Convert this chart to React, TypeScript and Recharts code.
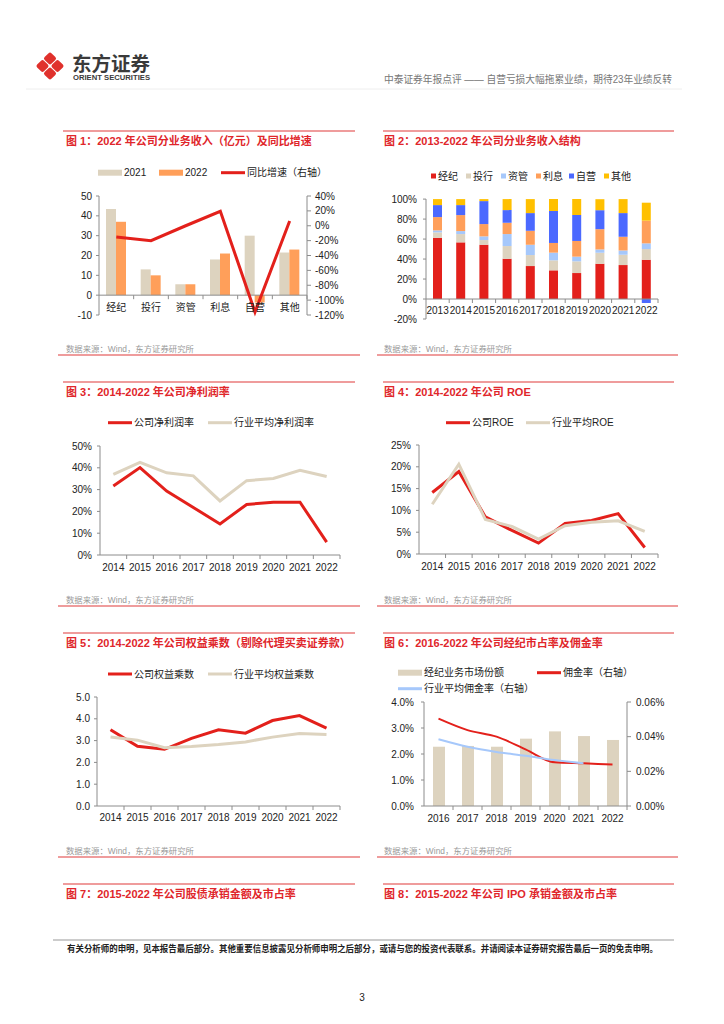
import React from "react";
import { ComposedChart, Bar, Line, XAxis, YAxis, ReferenceLine } from "recharts";

const FONT = '"Liberation Sans", "Noto Sans CJK SC", sans-serif';
const RED = "#e3201b";
const BEIGE = "#ddd3bf";
const ORANGE = "#ff9f5a";
const LIGHTBLUE = "#a6c8fb";
const BLUE = "#4b69ff";
const YELLOW = "#ffc000";
const AXIS = "#8c8c8c";
const INK = "#222";

// 图1 分业务收入（亿元）及同比增速
const bizCats = ["经纪", "投行", "资管", "利息", "自营", "其他"];
const rev2021 = [43.5, 13, 5.5, 18, 30, 21.5];
const rev2022 = [37, 10, 5.5, 21, -3.7, 23];
const revGrowth = [-15, -20, 0, 19.5, -116, 6.5];

// 图2 分业务收入结构（%）
const structYears = ["2013", "2014", "2015", "2016", "2017", "2018", "2019", "2020", "2021", "2022"];
const shareBrokerage = [61.3, 56.7, 54.3, 40.3, 33, 28.7, 26, 35.3, 34, 39.3];
const shareIB = [5.4, 8.3, 4.7, 12.7, 11, 10, 11.7, 11, 10.3, 10.7];
const shareAM = [2, 3, 3.7, 12, 10.3, 7.7, 4.7, 3.3, 4.3, 5.7];
const shareInterest = [13.3, 16, 12.3, 11.3, 14, 9.7, 15.7, 20.3, 13.7, 22.7];
const shareProp = [12, 10, 23, 12.7, 17.7, 32, 26, 19, 23.7, -4];
const shareOther = [6, 6, 2, 11, 14, 12, 16, 11, 14, 18];

// 图3-5
const years = ["2014", "2015", "2016", "2017", "2018", "2019", "2020", "2021", "2022"];
const netMarginCo = [31.7, 40.1, 29.3, 21.8, 14.2, 23.2, 24.2, 24.2, 5.9];
const netMarginInd = [37, 42.5, 37.7, 36.3, 24.8, 34.1, 35.1, 38.9, 36];
const roeCo = [14.1, 18.9, 8.5, 5.4, 2.5, 7.0, 7.7, 9.25, 1.5];
const roeInd = [11.4, 20.6, 7.9, 6.3, 3.4, 6.5, 7.3, 7.6, 5.2];
const leverCo = [3.5, 2.74, 2.6, 3.1, 3.5, 3.34, 3.92, 4.15, 3.57];
const leverInd = [3.16, 3.02, 2.67, 2.73, 2.82, 2.94, 3.16, 3.32, 3.28];

// 图6 经纪市占率及佣金率
const brokerYears = ["2016", "2017", "2018", "2019", "2020", "2021", "2022"];
const brokerShare = [2.28, 2.31, 2.28, 2.59, 2.87, 2.69, 2.54];
const commissionCo = [0.0504, 0.0438, 0.04, 0.0327, 0.0252, 0.0246, 0.024];
const commissionInd = [0.0385, 0.0342, 0.0312, 0.029, 0.0265, 0.0246, null];

const fig1Data = bizCats.map((name, i) => ({ name, a: rev2021[i], b: rev2022[i], g: revGrowth[i] }));
const fig2Data = structYears.map((name, i) => ({
  name,
  jj: shareBrokerage[i],
  th: shareIB[i],
  zg: shareAM[i],
  lx: shareInterest[i],
  zy: shareProp[i],
  qt: shareOther[i],
}));
const fig3Data = years.map((name, i) => ({ name, co: netMarginCo[i], ind: netMarginInd[i] }));
const fig4Data = years.map((name, i) => ({ name, co: roeCo[i], ind: roeInd[i] }));
const fig5Data = years.map((name, i) => ({ name, co: leverCo[i], ind: leverInd[i] }));
const fig6Data = brokerYears.map((name, i) => ({ name, s: brokerShare[i], c: commissionCo[i], ci: commissionInd[i] }));

const tickStyle = { fontSize: 10, fill: INK, fontFamily: FONT };
const pct = (v: number) => `${v}%`;

function CatTick(props: any) {
  const { x, y, payload, band, lift = 0, dyText = 15 } = props;
  const zy = y - lift;
  return (
    <g>
      <line x1={x + band / 2} x2={x + band / 2} y1={zy} y2={zy + 4} stroke={AXIS} />
      <text x={x} y={zy + dyText} textAnchor="middle" fontSize={10} fill={INK} fontFamily={FONT}>
        {payload.value}
      </text>
    </g>
  );
}

function Box({ left, top, children }: { left: number; top: number; children: React.ReactNode }) {
  return <div style={{ position: "absolute", left, top }}>{children}</div>;
}

function Fig1() {
  return (
    <ComposedChart width={300} height={150} data={fig1Data} barGap={0} margin={{ top: 11, right: 5, bottom: 0, left: 0 }}>
      <XAxis dataKey="name" axisLine={false} tickLine={false} tickSize={0} tickMargin={0} height={20} interval={0}
        tick={<CatTick band={208 / 6} lift={19.8} dyText={16} />} />
      <YAxis yAxisId="l" domain={[-10, 50]} ticks={[-10, 0, 10, 20, 30, 40, 50]} width={39} tick={tickStyle}
        stroke={AXIS} tickSize={3} tickMargin={4} interval={0} />
      <YAxis yAxisId="r" orientation="right" domain={[-120, 40]} ticks={[-120, -100, -80, -60, -40, -20, 0, 20, 40]}
        tickFormatter={pct} width={48} tick={tickStyle} stroke={AXIS} tickSize={4} tickMargin={4} interval={0} />
      <ReferenceLine yAxisId="l" y={0} stroke={AXIS} />
      <Bar yAxisId="l" dataKey="a" fill={BEIGE} barSize={10} isAnimationActive={false} />
      <Bar yAxisId="l" dataKey="b" fill={ORANGE} barSize={10} isAnimationActive={false} />
      <Line yAxisId="r" dataKey="g" stroke={RED} strokeWidth={3} dot={false} type="linear" isAnimationActive={false} />
    </ComposedChart>
  );
}

function Fig2() {
  return (
    <ComposedChart width={300} height={150} data={fig2Data} stackOffset="sign" margin={{ top: 14, right: 17, bottom: 0, left: 0 }}>
      <XAxis dataKey="name" axisLine={false} tickLine={false} tickSize={0} tickMargin={0} height={16} interval={0}
        tick={<CatTick band={232 / 10} lift={20} dyText={14.5} />} />
      <YAxis domain={[-20, 100]} ticks={[-20, 0, 20, 40, 60, 80, 100]} tickFormatter={pct} width={51}
        tick={tickStyle} stroke={AXIS} tickSize={3} tickMargin={6} interval={0} />
      <Bar dataKey="jj" stackId="s" fill={RED} barSize={9} isAnimationActive={false} />
      <Bar dataKey="th" stackId="s" fill={BEIGE} barSize={9} isAnimationActive={false} />
      <Bar dataKey="zg" stackId="s" fill={LIGHTBLUE} barSize={9} isAnimationActive={false} />
      <Bar dataKey="lx" stackId="s" fill={ORANGE} barSize={9} isAnimationActive={false} />
      <Bar dataKey="zy" stackId="s" fill={BLUE} barSize={9} isAnimationActive={false} />
      <Bar dataKey="qt" stackId="s" fill={YELLOW} barSize={9} isAnimationActive={false} />
      <ReferenceLine y={0} stroke={AXIS} />
    </ComposedChart>
  );
}

function TwoLines({ data, top, right, yWidth, plotW, domain, ticks, fmt, gap, dyText }: any) {
  const band = plotW / 9;
  return (
    <ComposedChart width={300} height={145} data={data} margin={{ top, right, bottom: 0, left: 0 }}>
      <XAxis dataKey="name" stroke={AXIS} tickLine={false} tickSize={0} tickMargin={0} height={145 - top - 109} interval={0}
        padding={{ left: band / 2, right: band / 2 }} tick={<CatTick band={band} dyText={dyText} />} />
      <YAxis domain={domain} ticks={ticks} tickFormatter={fmt} width={yWidth} tick={tickStyle}
        stroke={AXIS} tickSize={3} tickMargin={gap} interval={0} />
      <Line dataKey="co" stroke={RED} strokeWidth={3} dot={false} type="linear" isAnimationActive={false} />
      <Line dataKey="ind" stroke={BEIGE} strokeWidth={3} dot={false} type="linear" isAnimationActive={false} />
    </ComposedChart>
  );
}

function Fig6() {
  return (
    <ComposedChart width={300} height={140} data={fig6Data} margin={{ top: 12, right: 0, bottom: 0, left: 0 }}>
      <XAxis dataKey="name" stroke={AXIS} tickLine={false} tickSize={0} tickMargin={0} height={24} interval={0}
        tick={<CatTick band={203 / 7} dyText={16} />} />
      <YAxis yAxisId="l" domain={[0, 4]} ticks={[0, 1, 2, 3, 4]} tickFormatter={(v: number) => `${v.toFixed(1)}%`}
        width={49} tick={tickStyle} stroke={AXIS} tickSize={3} tickMargin={7} interval={0} />
      <YAxis yAxisId="r" orientation="right" domain={[0, 0.06]} ticks={[0, 0.02, 0.04, 0.06]}
        tickFormatter={(v: number) => `${v.toFixed(2)}%`} width={48} tick={tickStyle} stroke={AXIS} tickSize={4} tickMargin={5} interval={0} />
      <Bar yAxisId="l" dataKey="s" fill={BEIGE} barSize={12} isAnimationActive={false} />
      <Line yAxisId="r" dataKey="c" stroke={RED} strokeWidth={2} dot={false} type="monotone" isAnimationActive={false} />
      <Line yAxisId="r" dataKey="ci" stroke={LIGHTBLUE} strokeWidth={2} dot={false} type="monotone" isAnimationActive={false} />
    </ComposedChart>
  );
}

const titles = [
  { x: 66, y: 145, t: "图 1：2022 年公司分业务收入（亿元）及同比增速" },
  { x: 384, y: 145, t: "图 2：2013-2022 年公司分业务收入结构" },
  { x: 66, y: 396, t: "图 3：2014-2022 年公司净利润率" },
  { x: 384, y: 396, t: "图 4：2014-2022 年公司 ROE" },
  { x: 66, y: 647, t: "图 5：2014-2022 年公司权益乘数（剔除代理买卖证券款）" },
  { x: 384, y: 647, t: "图 6：2016-2022 年公司经纪市占率及佣金率" },
  { x: 66, y: 898, t: "图 7：2015-2022 年公司股债承销金额及市占率" },
  { x: 384, y: 898, t: "图 8：2015-2022 年公司 IPO 承销金额及市占率" },
];
const titleLineYs = [131, 382, 633, 884];
const sourceYs = [349, 600, 851];

function Txt({ x, y, children, size = 10, fill = INK, weight = 400, anchor = "start", len }: any) {
  return (
    <text x={x} y={y} fontSize={size} fill={fill} fontWeight={weight} textAnchor={anchor} fontFamily={FONT}
      textLength={len} lengthAdjust={len ? "spacingAndGlyphs" : undefined}>
      {children}
    </text>
  );
}

function LegLine({ x, y, c, w = 3, label }: any) {
  return (
    <g>
      <line x1={x} x2={x + 24} y1={y} y2={y} stroke={c} strokeWidth={w} />
      <Txt x={x + 26} y={y + 3.6}>{label}</Txt>
    </g>
  );
}
function LegBox({ x, y, c, label }: any) {
  return (
    <g>
      <rect x={x} y={y - 3} width={24} height={6} fill={c} />
      <Txt x={x + 26} y={y + 3.6}>{label}</Txt>
    </g>
  );
}
function LegSq({ x, y, c, label }: any) {
  return (
    <g>
      <rect x={x} y={y - 2.5} width={5} height={5} fill={c} />
      <Txt x={x + 7} y={y + 3.6}>{label}</Txt>
    </g>
  );
}

function Page() {
  return (
    <svg width={724} height={1024} style={{ position: "absolute", left: 0, top: 0 }}>
      <rect width={724} height={1024} fill="#fff" />
      {/* logo */}
      <g fill="#e0312c">
        {[[50, 58.5], [42.5, 66], [57.5, 66], [50, 73.5]].map(([cx, cy], i) => (
          <rect key={i} x={cx - 4.8} y={cy - 4.8} width={9.6} height={9.6} rx={2} transform={`rotate(45 ${cx} ${cy})`} />
        ))}
      </g>
      <Txt x={72} y={71} size={19} weight={700} fill="#3a3a3a" len={78}>东方证券</Txt>
      <Txt x={73} y={79.5} size={7} weight={700} fill="#3a3a3a" len={77}>ORIENT SECURITIES</Txt>
      <Txt x={384} y={82.5} size={10} fill="#777" len={288}>中泰证券年报点评 —— 自营亏损大幅拖累业绩，期待23年业绩反转</Txt>
      <line x1={26} x2={682} y1={89} y2={89} stroke="#eee" />

      {titleLineYs.map((y) => (
        <g key={y}>
          <line x1={63} x2={355} y1={y} y2={y} stroke="#e03a3a" strokeWidth={1.2} />
          <line x1={383} x2={674} y1={y} y2={y} stroke="#e03a3a" strokeWidth={1.2} />
        </g>
      ))}
      {titles.map((t) => (
        <Txt key={t.t} x={t.x} y={t.y} size={11} weight={700} fill="#e0262b">{t.t}</Txt>
      ))}
      {sourceYs.map((y) => (
        <g key={y}>
          <Txt x={66} y={y + 3} size={8.4} fill="#999">数据来源：Wind，东方证券研究所</Txt>
          <Txt x={384} y={y + 3} size={8.4} fill="#999">数据来源：Wind，东方证券研究所</Txt>
          <line x1={58} x2={360} y1={y + 6} y2={y + 6} stroke="#e03a3a" strokeWidth={1.2} />
          <line x1={377} x2={678} y1={y + 6} y2={y + 6} stroke="#e03a3a" strokeWidth={1.2} />
        </g>
      ))}

      {/* legends */}
      <LegBox x={98} y={172.7} c={BEIGE} label="2021" />
      <LegBox x={159} y={172.7} c={ORANGE} label="2022" />
      <LegLine x={221} y={172.7} c={RED} label="同比增速（右轴）" />

      <LegSq x={431} y={176} c={RED} label="经纪" />
      <LegSq x={466} y={176} c={BEIGE} label="投行" />
      <LegSq x={501} y={176} c={LIGHTBLUE} label="资管" />
      <LegSq x={536} y={176} c={ORANGE} label="利息" />
      <LegSq x={569} y={176} c={BLUE} label="自营" />
      <LegSq x={604} y={176} c={YELLOW} label="其他" />

      <LegLine x={108} y={422.7} c={RED} label="公司净利润率" />
      <LegLine x={208} y={422.7} c={BEIGE} label="行业平均净利润率" />
      <LegLine x={446} y={422.7} c={RED} label="公司ROE" />
      <LegLine x={526} y={422.7} c={BEIGE} label="行业平均ROE" />
      <LegLine x={108} y={674} c={RED} label="公司权益乘数" />
      <LegLine x={208} y={674} c={BEIGE} label="行业平均权益乘数" />
      <LegBox x={398} y={672.7} c={BEIGE} label="经纪业务市场份额" />
      <LegLine x={537} y={672.7} c={RED} label="佣金率（右轴）" />
      <LegLine x={398} y={688.7} c={LIGHTBLUE} label="行业平均佣金率（右轴）" />

      {/* footer */}
      <line x1={53} x2={674} y1={940} y2={940} stroke="#999" />
      <Txt x={67} y={952} size={8.6} weight={700} fill="#222" len={591}>
        有关分析师的申明，见本报告最后部分。其他重要信息披露见分析师申明之后部分，或请与您的投资代表联系。并请阅读本证券研究报告最后一页的免责申明。
      </Txt>
      <Txt x={362} y={1001} size={10} anchor="middle">3</Txt>
    </svg>
  );
}

export default function App() {
  return (
    <div style={{ position: "absolute", left: 0, top: 0, width: 724, height: 1024, background: "#fff", overflow: "hidden" }}>
      <Page />
      <Box left={60} top={185}><Fig1 /></Box>
      <Box left={375} top={185}><Fig2 /></Box>
      <Box left={60} top={435}>
        <TwoLines data={fig3Data} top={11} right={20} yWidth={40} plotW={240} domain={[0, 50]}
          ticks={[0, 10, 20, 30, 40, 50]} fmt={pct} gap={5} dyText={15.5} />
      </Box>
      <Box left={375} top={435}>
        <TwoLines data={fig4Data} top={10} right={17} yWidth={44} plotW={239} domain={[0, 25]}
          ticks={[0, 5, 10, 15, 20, 25]} fmt={pct} gap={5} dyText={16} />
      </Box>
      <Box left={60} top={686}>
        <TwoLines data={fig5Data} top={11} right={20} yWidth={37} plotW={243} domain={[0, 5]}
          ticks={[0, 1, 2, 3, 4, 5]} fmt={(v: number) => v.toFixed(1)} gap={4} dyText={15} />
      </Box>
      <Box left={375} top={690}><Fig6 /></Box>
    </div>
  );
}
